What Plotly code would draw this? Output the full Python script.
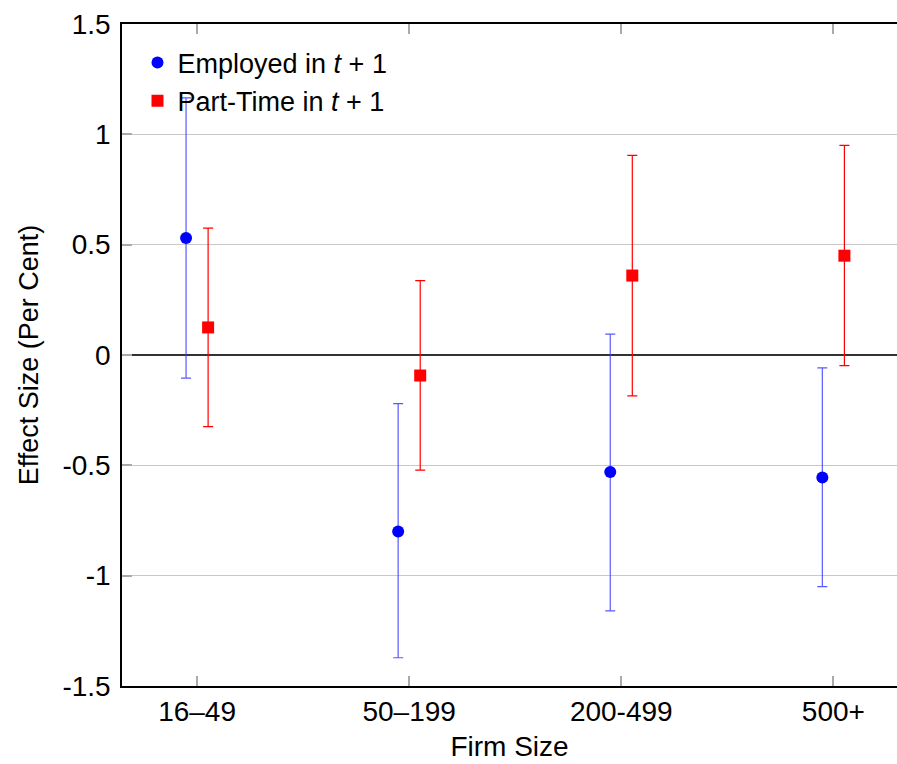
import plotly.graph_objects as go

categories = ["16–49", "50–199", "200-499", "500+"]

emp_est = [0.53, -0.80, -0.53, -0.555]
emp_hi = [1.165, -0.22, 0.095, -0.058]
emp_lo = [-0.105, -1.372, -1.16, -1.05]

pt_est = [0.125, -0.093, 0.36, 0.45]
pt_hi = [0.575, 0.337, 0.905, 0.95]
pt_lo = [-0.325, -0.522, -0.185, -0.048]

y_ticks = [-1.5, -1, -0.5, 0, 0.5, 1, 1.5]
y_tick_text = ["-1.5", "-1", "-0.5", "0", "0.5", "1", "1.5"]

offset = 0.052
idx = list(range(len(categories)))

font = "Liberation Sans, Arial, Helvetica, sans-serif"

fig = go.Figure()
fig.add_trace(go.Scatter(
    x=[i - offset for i in idx], y=emp_est, mode="markers",
    name="Employed in <i>t</i> + 1",
    marker=dict(color="blue", size=12, symbol="circle"),
    error_y=dict(type="data", symmetric=False,
                 array=[h - e for h, e in zip(emp_hi, emp_est)],
                 arrayminus=[e - l for e, l in zip(emp_est, emp_lo)],
                 color="rgba(60,60,255,0.85)", thickness=1.2, width=5),
))
fig.add_trace(go.Scatter(
    x=[i + offset for i in idx], y=pt_est, mode="markers",
    name="Part-Time in <i>t</i> + 1",
    marker=dict(color="red", size=12, symbol="square"),
    error_y=dict(type="data", symmetric=False,
                 array=[h - e for h, e in zip(pt_hi, pt_est)],
                 arrayminus=[e - l for e, l in zip(pt_est, pt_lo)],
                 color="red", thickness=1.2, width=5),
))

fig.update_layout(
    width=897, height=764,
    margin=dict(l=122, r=0, t=24, b=78),
    paper_bgcolor="white", plot_bgcolor="white",
    font=dict(family=font, size=28, color="black"),
    showlegend=True,
    legend=dict(x=0.02, y=0.978, xanchor="left", yanchor="top",
                bgcolor="rgba(0,0,0,0)", font=dict(size=27),
                itemwidth=30, tracegroupgap=0),
    xaxis=dict(
        range=[-0.354, 3.3],
        tickvals=idx, ticktext=categories,
        showline=True, linecolor="black", linewidth=1.5, mirror="ticks",
        ticks="inside", ticklen=10, tickcolor="#aaaaaa", tickwidth=1.5,
        showgrid=False, zeroline=False,
        title=dict(text="Firm Size", font=dict(size=28), standoff=10),
        tickfont=dict(size=28),
    ),
    yaxis=dict(
        range=[-1.5, 1.5],
        tickvals=y_ticks, ticktext=y_tick_text,
        showline=True, linecolor="black", linewidth=1.5, mirror=False,
        ticks="inside", ticklen=10, tickcolor="#aaaaaa", tickwidth=1.5,
        ticklabelstandoff=4,
        showgrid=True, gridcolor="#c8c8c8", gridwidth=1,
        zeroline=True, zerolinecolor="#333333", zerolinewidth=1.5,
        title=dict(text="Effect Size (Per Cent)", font=dict(size=27), standoff=16),
        tickfont=dict(size=28),
    ),
)

fig.write_html("out.html")
